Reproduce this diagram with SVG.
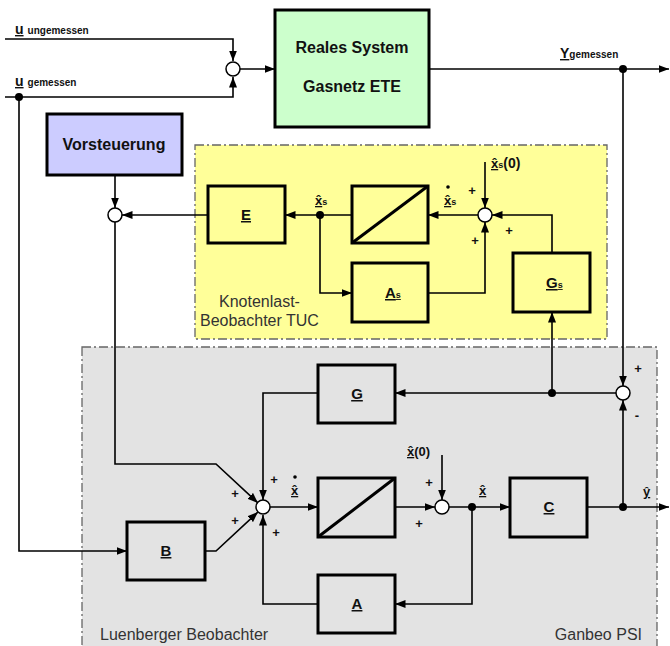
<svg xmlns="http://www.w3.org/2000/svg" width="670" height="646" viewBox="0 0 670 646">
  <defs>
    <marker id="arr" markerWidth="11" markerHeight="9" refX="10.5" refY="4.5" orient="auto" markerUnits="userSpaceOnUse">
      <path d="M0,0.5 L10.5,4.5 L0,8.5 z" fill="#000"/>
    </marker>
    <style>
      .region { stroke:#666; stroke-width:1.3; stroke-dasharray:9,3,2,3; }
      .blk { stroke:#000; stroke-width:3; }
      .sum { fill:#fff; stroke:#000; stroke-width:1.5; }
      .arrw { fill:none; stroke:#000; stroke-width:1.6; marker-end:url(#arr); }
      .dot { fill:#000; }
      .title { font-family:"Liberation Sans", Arial, sans-serif; font-weight:bold; font-size:16px; fill:#111; text-anchor:middle; }
      .lbl { font-family:"Liberation Sans", Arial, sans-serif; font-weight:bold; font-size:15px; fill:#111; text-decoration:underline; }
      .var { font-family:"Liberation Sans", Arial, sans-serif; font-weight:bold; font-size:13px; fill:#111; }
      .ul { text-decoration:underline; }
      .sub { font-size:9px; text-decoration:none; }
      .sign { font-family:"Liberation Sans", Arial, sans-serif; font-weight:bold; font-size:13px; fill:#111; text-anchor:middle; }
      .area { font-family:"Liberation Sans", Arial, sans-serif; font-size:16px; fill:#333; }
    </style>
  </defs>

  <!-- observer regions -->
  <g id="region-luenberger">
    <rect x="82" y="347" width="575" height="305" fill="#e3e3e3" class="region"/>
    <text class="area" x="100" y="640">Luenberger Beobachter</text>
    <text class="area" x="642" y="640" text-anchor="end">Ganbeo PSI</text>
  </g>
  <g id="region-knotenlast">
    <rect x="195" y="145" width="412" height="194" fill="#ffff99" class="region"/>
    <text class="area" x="219" y="307">Knotenlast-</text>
    <text class="area" x="200" y="326">Beobachter TUC</text>
  </g>

  <!-- connectors -->
  <g id="connectors">
    <path class="arrw" d="M5,39 H233 V61"/>
    <path class="arrw" d="M5,97 H233 V77"/>
    <path class="arrw" d="M240,69 H275"/>
    <path class="arrw" d="M429,69 H669"/>
    <path class="arrw" d="M623,69 V386"/>
    <path class="arrw" d="M19,97 V551 H127"/>
    <path class="arrw" d="M115,175 V208"/>
    <path class="arrw" d="M208,215 H122"/>
    <path class="arrw" d="M115,222 V464 H216 L258,503"/>
    <path class="arrw" d="M205,551 H216 L258,512"/>
    <path class="arrw" d="M318,393 H263 V500"/>
    <path class="arrw" d="M318,604 H263 V515"/>
    <path class="arrw" d="M270,507 H318"/>
    <path class="arrw" d="M395,507 H435"/>
    <path class="arrw" d="M442,455 V500"/>
    <path class="arrw" d="M449,507 H510"/>
    <path class="arrw" d="M472,507 V604 H395"/>
    <path class="arrw" d="M587,507 H669"/>
    <path class="arrw" d="M623,507 V400"/>
    <path class="arrw" d="M616,393 H395"/>
    <path class="arrw" d="M552,393 V312"/>
    <path class="arrw" d="M552,253 V215 H492"/>
    <path class="arrw" d="M485,162 V208"/>
    <path class="arrw" d="M478,215 H428"/>
    <path class="arrw" d="M352,215 H285"/>
    <path class="arrw" d="M320,215 V293 H352"/>
    <path class="arrw" d="M428,293 H485 V222"/>
    <circle class="dot" cx="19" cy="97" r="4"/>
    <circle class="dot" cx="623" cy="69" r="4"/>
    <circle class="dot" cx="320" cy="215" r="4"/>
    <circle class="dot" cx="472" cy="507" r="4"/>
    <circle class="dot" cx="623" cy="507" r="4"/>
    <circle class="dot" cx="552" cy="393" r="4"/>
  </g>

  <!-- summing junctions -->
  <g id="sum-input"><circle class="sum" cx="233" cy="69" r="7"/></g>
  <g id="sum-vorsteuerung"><circle class="sum" cx="115" cy="215" r="7"/></g>
  <g id="sum-knotenlast"><circle class="sum" cx="485" cy="215" r="7"/></g>
  <g id="sum-luenberger"><circle class="sum" cx="263" cy="507" r="7"/></g>
  <g id="sum-init"><circle class="sum" cx="442" cy="507" r="7"/></g>
  <g id="sum-error"><circle class="sum" cx="623" cy="393" r="7"/></g>

  <!-- blocks -->
  <g id="reales-system">
    <rect class="blk" x="275" y="10" width="154" height="117" fill="#ccffcc"/>
    <text class="title" x="352" y="53">Reales System</text>
    <text class="title" x="352" y="92">Gasnetz ETE</text>
  </g>
  <g id="vorsteuerung">
    <rect class="blk" x="47" y="114" width="135" height="61" fill="#ccccff"/>
    <text class="title" x="114" y="150">Vorsteuerung</text>
  </g>
  <g id="block-E">
    <rect class="blk" x="208" y="186" width="77" height="57" fill="#ffff99"/>
    <text class="lbl" x="246" y="220" text-anchor="middle">E</text>
  </g>
  <g id="integrator-s">
    <rect class="blk" x="352" y="186" width="76" height="57" fill="#ffff99"/>
    <path class="blk" d="M352,243 L428,186" fill="none"/>
  </g>
  <g id="block-As">
    <rect class="blk" x="352" y="263" width="76" height="59" fill="#ffff99"/>
    <text class="lbl" x="385" y="298">A<tspan class="sub">s</tspan></text>
  </g>
  <g id="block-Gs">
    <rect class="blk" x="513" y="253" width="77" height="59" fill="#ffff99"/>
    <text class="lbl" x="546" y="288">G<tspan class="sub">s</tspan></text>
  </g>
  <g id="block-G">
    <rect class="blk" x="318" y="365" width="77" height="58" fill="#e3e3e3"/>
    <text class="lbl" x="357" y="399" text-anchor="middle">G</text>
  </g>
  <g id="integrator">
    <rect class="blk" x="318" y="478" width="77" height="59" fill="#e3e3e3"/>
    <path class="blk" d="M318,537 L395,478" fill="none"/>
  </g>
  <g id="block-A">
    <rect class="blk" x="318" y="575" width="77" height="58" fill="#e3e3e3"/>
    <text class="lbl" x="357" y="609" text-anchor="middle">A</text>
  </g>
  <g id="block-B">
    <rect class="blk" x="127" y="522" width="78" height="58" fill="#e3e3e3"/>
    <text class="lbl" x="166" y="556" text-anchor="middle">B</text>
  </g>
  <g id="block-C">
    <rect class="blk" x="510" y="478" width="77" height="59" fill="#e3e3e3"/>
    <text class="lbl" x="549" y="512" text-anchor="middle">C</text>
  </g>

  <!-- signal labels -->
  <g id="labels">
    <text class="var" x="15" y="34"><tspan class="ul" font-size="14">u</tspan><tspan font-size="10" dx="4">ungemessen</tspan></text>
    <text class="var" x="15" y="86"><tspan class="ul" font-size="14">u</tspan><tspan font-size="10" dx="4">gemessen</tspan></text>
    <text class="var" x="560" y="58"><tspan class="ul" font-size="14">Y</tspan><tspan font-size="10">gemessen</tspan></text>

    <text class="var" x="315" y="205"><tspan class="ul">x̂</tspan><tspan class="sub">s</tspan></text>
    <text class="var" x="444" y="205"><tspan class="ul">x̂</tspan><tspan class="sub">s</tspan></text>
    <circle class="dot" cx="448" cy="187" r="1.8"/>
    <text class="var" x="491" y="168"><tspan class="ul">x̂</tspan><tspan class="sub">s</tspan><tspan font-size="14">(0)</tspan></text>

    <text class="var" x="291" y="495"><tspan class="ul">x̂</tspan></text>
    <circle class="dot" cx="295" cy="477" r="1.8"/>
    <text class="var" x="407" y="456"><tspan class="ul">x̂</tspan><tspan font-size="13">(0)</tspan></text>
    <text class="var" x="479" y="495"><tspan class="ul">x̂</tspan></text>
    <text class="var" x="643" y="496"><tspan class="ul">ŷ</tspan></text>

    <text class="sign" x="472" y="195">+</text>
    <text class="sign" x="475" y="245">+</text>
    <text class="sign" x="509" y="235">+</text>
    <text class="sign" x="274" y="484">+</text>
    <text class="sign" x="235" y="498">+</text>
    <text class="sign" x="235" y="525">+</text>
    <text class="sign" x="276" y="537">+</text>
    <text class="sign" x="429" y="487">+</text>
    <text class="sign" x="419" y="528">+</text>
    <text class="sign" x="638" y="373">+</text>
    <text class="sign" x="637" y="420">-</text>
  </g>
</svg>
